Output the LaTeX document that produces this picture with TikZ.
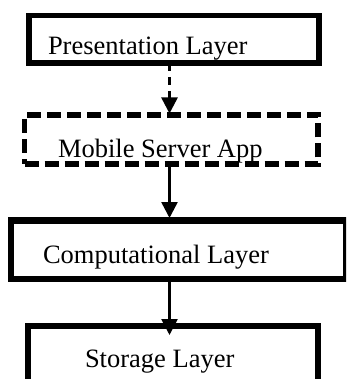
\documentclass[tikz,border=0pt]{standalone}
\usepackage{fontspec}
\setmainfont{Liberation Serif}
\usetikzlibrary{arrows.meta}
\begin{document}
\begin{tikzpicture}[x=1pt,y=-1pt,
  layerbox/.style={draw, rectangle, line width=5.5pt, inner sep=0pt, outer sep=0pt},
  dashbox/.style={layerbox, dash pattern=on 14pt off 6pt},
  lbltext/.style={anchor=base west, inner sep=0pt, outer sep=0pt, font=\fontsize{26.5}{30}\selectfont},
  flow/.style={line width=2.5pt, -{Triangle[width=16pt,length=16pt]}},
]
\useasboundingbox (0,0) rectangle (346,379);
\clip (0,0) rectangle (346,379);
% boxes
\node[layerbox, minimum width=290pt, minimum height=47.5pt] (b1) at (174,39.25) {};
\node[dashbox, minimum width=293.5pt, minimum height=49pt] (b2) at (171.25,139.5) {};
\node[layerbox, line width=6.5pt, minimum width=335pt, minimum height=58.5pt] (b3) at (178.5,249.75) {};
\node[layerbox, line width=6pt, minimum width=290pt, minimum height=74pt] (b4) at (173,363) {};
% texts
\node[lbltext] (t1) at (48,55) {Presentation Layer};
\node[lbltext] (t2) at (58,158) {Mobile Server App};
\node[lbltext] (t3) at (43,263) {Computational Layer};
\node[lbltext] (t4) at (85,367) {Storage Layer};
% connectors
\coordinate (ax) at (169.5,0);
\path (b2.north -| ax) ++(0,-1.5) coordinate (e1);
\path (b3.north -| ax) ++(0,-2.5) coordinate (e2);
\path (b4.north -| ax) ++(0,9) coordinate (e3);
\draw[flow, dash pattern=on 8pt off 6pt] (b1.south -| ax) -- (e1);
\draw[flow] (b2.south -| ax) -- (e2);
\draw[flow] (b3.south -| ax) -- (e3);
\end{tikzpicture}
\end{document}
